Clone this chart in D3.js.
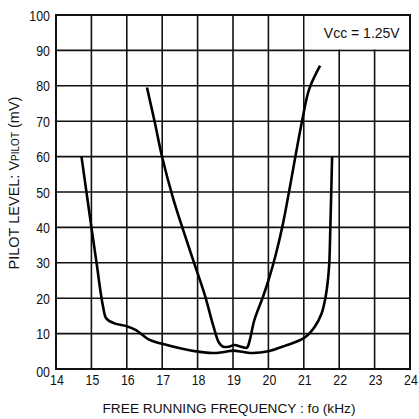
<!DOCTYPE html>
<html><head><meta charset="utf-8">
<script src="https://cdn.jsdelivr.net/npm/d3@7"></script>
<style>body{margin:0;background:#fff}svg{display:block}</style>
</head><body>
<script>
const xTicks = [14,15,16,17,18,19,20,21,22,23,24];
const xTickLabels = ["14","15","16","17","18","19","20","21","22","23","24"];
const yTicks = [0,10,20,30,40,50,60,70,80,90,100];
const yTickLabels = ["00","10","20","30","40","50","60","70","80","90","100"];
// wide U curve
const curveAFreq = [14.72,14.86,15.0,15.15,15.25,15.33,15.42,15.65,16.0,16.26,16.63,17.0,17.57,18.0,18.41,18.75,19.0,19.3,19.55,20.0,20.48,21.0,21.3,21.5,21.6,21.68,21.72,21.75,21.8];
const curveAVal  = [60,50,40,29.7,22.4,17.6,14.3,12.9,12.1,11,8.3,7.1,5.7,4.9,4.5,4.8,5.2,4.8,4.5,5.0,6.6,8.7,11.8,15.6,19.5,25,30,40,60];
// V curve
const curveBFreq = [16.57,16.79,17.0,17.3,17.6,17.9,18.2,18.45,18.6,18.72,18.88,19.04,19.23,19.39,19.47,19.6,19.84,20.0,20.2,20.4,20.6,20.78,20.95,21.15,21.46];
const curveBVal  = [79.5,69.7,59.8,48.5,39,30,21,12,7.5,6.3,6.3,6.8,6.3,6.0,8,13.7,20.2,25,32,40.5,51,61,70,79,85.7];
const noteText = "Vcc = 1.25V";

const W=419,H=419;
const svg=d3.select("body").append("svg").attr("width",W).attr("height",H);
const x=d3.scaleLinear().domain([14,24]).range([56,410]);
const y=d3.scaleLinear().domain([0,100]).range([369,15]);
const ink="#111";
const g=svg.append("g");
g.selectAll("line.v").data(xTicks).enter().append("line")
  .attr("x1",d=>x(d)).attr("x2",d=>x(d)).attr("y1",y(0)).attr("y2",y(100))
  .attr("stroke",ink).attr("stroke-width",1.6);
g.selectAll("line.h").data(yTicks).enter().append("line")
  .attr("x1",x(14)).attr("x2",x(24)).attr("y1",d=>y(d)).attr("y2",d=>y(d))
  .attr("stroke",ink).attr("stroke-width",1.6);
svg.append("rect").attr("x",x(21)+1).attr("y",y(100)+1).attr("width",x(24)-x(21)-2).attr("height",y(90)-y(100)-2).attr("fill","#fff");
svg.append("text").attr("x",x(21)+20).attr("y",y(100)+23).attr("font-family","Liberation Sans, Arial, sans-serif").attr("font-size",14).attr("fill",ink).text(noteText);
svg.append("rect").attr("x",x(14)).attr("y",y(100)).attr("width",x(24)-x(14)).attr("height",y(0)-y(100)).attr("fill","none").attr("stroke",ink).attr("stroke-width",2);
const line=d3.line().x(d=>x(d[0])).y(d=>y(d[1])).curve(d3.curveCatmullRom.alpha(0.5));
svg.append("path").attr("d",line(d3.zip(curveAFreq,curveAVal))).attr("fill","none").attr("stroke","#000").attr("stroke-width",2.6).attr("stroke-linejoin","round");
svg.append("path").attr("d",line(d3.zip(curveBFreq,curveBVal))).attr("fill","none").attr("stroke","#000").attr("stroke-width",2.6).attr("stroke-linejoin","round");
const tf="Liberation Sans, Arial, sans-serif";
svg.selectAll("text.yt").data(yTicks).enter().append("text")
  .attr("transform",d=>`translate(50,${y(d)+5.5+(d===0?2:0)}) scale(0.8,1)`).attr("text-anchor","end")
  .attr("font-family",tf).attr("font-size",15.5).attr("fill",ink).text((d,i)=>yTickLabels[i]);
svg.selectAll("text.xt").data(xTicks).enter().append("text")
  .attr("transform",d=>`translate(${x(d)+1},385) scale(0.8,1)`).attr("text-anchor","middle")
  .attr("font-family",tf).attr("font-size",15.5).attr("fill",ink).text((d,i)=>xTickLabels[i]);
svg.append("text").attr("x",229).attr("y",413).attr("text-anchor","middle")
  .attr("font-family","Liberation Sans, Arial, sans-serif").attr("font-size",13.7).attr("fill",ink)
  .text("FREE RUNNING FREQUENCY : fo (kHz)");
const yt=svg.append("text").attr("transform","translate(19,183) rotate(-90)").attr("text-anchor","middle")
  .attr("font-family","Liberation Sans, Arial, sans-serif").attr("font-size",14.5).attr("fill",ink);
yt.append("tspan").text("PILOT LEVEL: V");
yt.append("tspan").attr("font-size",10).text("PILOT");
yt.append("tspan").text(" (mV)");
</script>
</body></html>
